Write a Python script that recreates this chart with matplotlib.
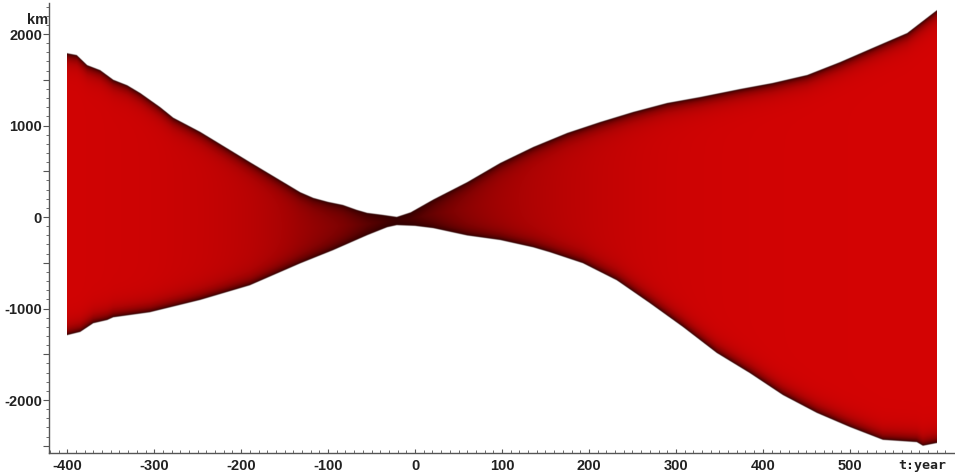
import numpy as np
import matplotlib
matplotlib.use("Agg")
import matplotlib.pyplot as plt
from matplotlib.ticker import FixedLocator, FixedFormatter

# Upper envelope of the oscillation band (t in years, value in km)
t_upper = [-400, -389, -377, -362, -347, -331, -316, -293, -278, -247, -190,
           -132, -117, -100, -83, -67, -55, -37, -21, -5, 21, 60, 98, 136,
           175, 213, 251, 290, 328, 374, 411, 451, 489, 526, 566, 600]
v_upper = [1790, 1770, 1660, 1605, 1500, 1440, 1355, 1200, 1085, 930, 600,
           270, 208, 164, 131, 77, 44, 22, 0, 50, 190, 380, 590, 765,
           918, 1038, 1148, 1246, 1311, 1399, 1464, 1552, 1694, 1847, 2011, 2260]

# Lower envelope of the oscillation band
t_lower = [-400, -385, -370, -354, -347, -305, -247, -190, -132, -94, -55,
           -32, -21, 0, 21, 60, 98, 136, 155, 193, 232, 270, 308, 347, 385,
           423, 462, 500, 538, 577, 584, 600]
v_lower = [-1290, -1255, -1160, -1125, -1095, -1040, -905, -745, -505, -360,
           -197, -110, -87, -95, -120, -200, -250, -330, -383, -503, -690,
           -940, -1200, -1485, -1705, -1945, -2140, -2295, -2435, -2460,
           -2500, -2470]

x_tick_values = [-400, -300, -200, -100, 0, 100, 200, 300, 400, 500]
y_tick_values = [-2000, -1000, 0, 1000, 2000]

W, H = 955, 475
fig = plt.figure(figsize=(W / 100, H / 100), dpi=100)
ax_left, ax_right, ax_top, ax_bottom = 49, 955, 3, 453
ax = fig.add_axes([ax_left / W, (H - ax_bottom) / H,
                   (ax_right - ax_left) / W, (ax_bottom - ax_top) / H])
xlim = (-421, 621)
ylim = (-2579, 2339)
ax.set_xlim(*xlim)
ax.set_ylim(*ylim)

# Shaded band: dark where the curve bunches up (edges, narrow parts)
T = np.linspace(t_upper[0], t_upper[-1], 2401)
V = np.linspace(ylim[0], ylim[1], 1400)
up = np.interp(T, t_upper, v_upper)
lo = np.interp(T, t_lower, v_lower)
k = (ax_bottom - ax_top) / (ylim[1] - ylim[0])  # pixels per km
width_px = (up - lo)[None, :] * k
d_px = np.minimum(V[:, None] - lo[None, :], up[None, :] - V[:, None]) * k
alpha = np.clip(d_px + 0.6, 0, 1)
edge = 1 - np.exp(-np.clip(d_px, 0, None) / 7.0)
wide = 1 - np.exp(-width_px / 75.0)
b = np.clip(edge * wide, 0, 1) ** 0.8
rgba = np.zeros(d_px.shape + (4,))
rgba[..., 0] = (45 + b * (212 - 45)) / 255
rgba[..., 1] = (b * 4) / 255
rgba[..., 2] = (b * 4) / 255
rgba[..., 3] = alpha
ax.imshow(rgba, origin="lower", aspect="auto", interpolation="bilinear",
          extent=[T[0], T[-1], V[0], V[-1]], zorder=1)

# Axes styling
axis_color = "#555555"
for side in ("top", "right"):
    ax.spines[side].set_visible(False)
for side in ("left", "bottom"):
    ax.spines[side].set_color(axis_color)
    ax.spines[side].set_linewidth(1.0)

tick_font = dict(family="Liberation Sans", weight="bold", size=10.5)

ax.xaxis.set_major_locator(FixedLocator(x_tick_values))
ax.xaxis.set_major_formatter(FixedFormatter([f"{v}" for v in x_tick_values]))
ax.xaxis.set_minor_locator(FixedLocator(np.arange(-420, 611, 10)))
ax.tick_params(axis="x", which="major", direction="in", length=3, width=0.8,
               color=axis_color, pad=4)
ax.tick_params(axis="x", which="minor", direction="in", length=2, width=0.6,
               color=axis_color)

y_major = np.arange(-2500, 2001, 500)
ax.yaxis.set_major_locator(FixedLocator(y_major))
ax.yaxis.set_major_formatter(FixedFormatter(
    [f"{v}" if v in y_tick_values else "" for v in y_major]))
ax.yaxis.set_minor_locator(FixedLocator(np.arange(-2500, 2301, 100)))
ax.tick_params(axis="y", which="major", direction="out", length=4, width=0.8,
               color=axis_color, pad=1)
ax.tick_params(axis="y", which="minor", direction="out", length=2, width=0.6,
               color=axis_color)

for lab in ax.get_xticklabels() + ax.get_yticklabels():
    lab.set_fontfamily(tick_font["family"])
    lab.set_fontweight(tick_font["weight"])
    lab.set_fontsize(tick_font["size"])
    lab.set_color("#222222")

fig.text(38 / W, 1 - 20 / H, "km", ha="center", va="center",
         family="Liberation Sans", weight="bold", size=10.5, color="#222222")
fig.text(922 / W, 1 - 465 / H, "t:year", ha="center", va="center",
         family="DejaVu Sans Mono", weight="bold", size=9.5, color="#222222")

fig.savefig("out.png", dpi=100)
